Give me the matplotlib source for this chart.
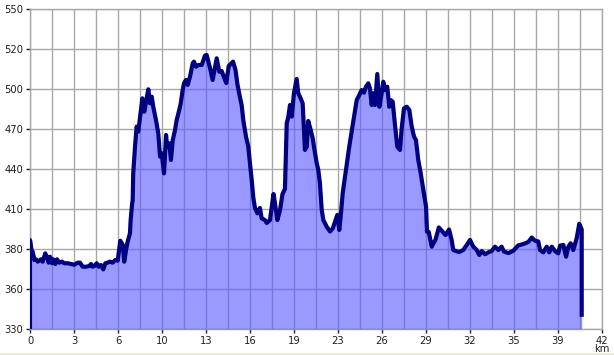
import matplotlib
matplotlib.use("Agg")
import matplotlib.pyplot as plt
import numpy as np
from matplotlib.lines import Line2D

# Elevation profile (km, m)
dist_km = [
    0.00, 0.00, 0.15, 0.20, 0.32, 0.44, 0.57, 0.68, 0.81, 0.93,
    1.12, 1.23, 1.37, 1.47, 1.62, 1.71, 1.86, 1.98, 2.15, 2.35,
    2.52, 2.77, 3.01, 3.25, 3.50, 3.67, 3.87, 4.11, 4.35, 4.48,
    4.60, 4.72, 4.90, 5.04, 5.21, 5.38, 5.53, 5.70, 5.87, 6.07,
    6.26, 6.44, 6.63, 6.81, 6.92, 7.05, 7.17, 7.34, 7.39, 7.49,
    7.54, 7.58, 7.71, 7.83, 7.95, 8.08, 8.25, 8.39, 8.52, 8.69,
    8.81, 8.94, 9.05, 9.25, 9.42, 9.55, 9.67, 9.84, 9.99, 10.08,
    10.23, 10.35, 10.48, 10.65, 10.77, 10.96, 11.07, 11.21, 11.31, 11.45,
    11.58, 11.75, 11.95, 12.04, 12.19, 12.36, 12.61, 12.85, 12.97, 13.22,
    13.41, 13.71, 13.90, 14.07, 14.41, 14.59, 14.91, 15.09, 15.22, 15.38,
    15.54, 15.66, 15.86, 16.03, 16.15, 16.28, 16.40, 16.52, 16.70, 16.88,
    17.01, 17.25, 17.38, 17.62, 17.88, 17.99, 18.16, 18.36, 18.54, 18.72,
    18.85, 18.97, 19.09, 19.22, 19.38, 19.58, 19.70, 19.83, 20.02, 20.19,
    20.32, 20.43, 20.61, 20.76, 20.85, 21.05, 21.17, 21.29, 21.42, 21.54,
    21.79, 22.03, 22.23, 22.40, 22.56, 22.71, 22.81, 22.96, 23.13, 23.25,
    23.44, 23.62, 23.79, 23.99, 24.18, 24.35, 24.52, 24.67, 24.84, 24.96,
    25.09, 25.21, 25.33, 25.50, 25.65, 25.82, 25.94, 26.07, 26.23, 26.38,
    26.48, 26.63, 26.80, 26.97, 27.17, 27.29, 27.46, 27.66, 27.85, 28.03,
    28.20, 28.34, 28.51, 28.69, 28.88, 29.08, 29.15, 29.28, 29.50, 29.63,
    29.77, 30.02, 30.25, 30.51, 30.77, 30.96, 31.08, 31.50, 31.81, 32.07,
    32.31, 32.55, 32.80, 32.99, 33.17, 33.41, 33.65, 33.90, 34.14, 34.39,
    34.63, 34.80, 35.12, 35.49, 35.85, 36.22, 36.59, 36.84, 37.08, 37.32,
    37.45, 37.69, 37.94, 38.13, 38.31, 38.55, 38.79, 38.92, 39.16, 39.36,
    39.53, 39.70, 39.89, 40.14, 40.33, 40.51, 40.51,
]
elev_m = [
    330.0, 391.2, 382.0, 383.1, 377.4, 377.9, 376.3, 377.0, 377.9, 376.3,
    382.0, 379.7, 375.6, 379.7, 375.2, 377.9, 374.7, 377.9, 375.6, 376.3,
    375.2, 375.2, 374.7, 374.2, 375.6, 375.6, 372.8, 372.8, 373.3, 374.7,
    372.8, 373.3, 375.2, 372.8, 374.0, 371.0, 375.2, 375.6, 376.3, 375.6,
    377.4, 377.0, 390.7, 387.8, 376.3, 384.3, 390.0, 395.8, 404.9, 415.3,
    418.7, 437.0, 455.3, 469.1, 465.7, 475.9, 488.6, 479.4, 486.3, 494.8,
    485.2, 489.7, 482.8, 473.7, 464.5, 448.5, 450.8, 437.0, 463.4, 455.3,
    457.7, 446.2, 459.9, 466.8, 473.7, 480.6, 485.2, 494.3, 498.9, 501.2,
    497.8, 503.5, 512.7, 513.8, 510.3, 511.5, 511.5, 518.0, 518.4, 509.4,
    501.2, 516.1, 506.9, 507.4, 499.1, 510.8, 513.8, 508.1, 498.9, 490.9,
    484.0, 473.7, 462.2, 455.3, 443.9, 432.4, 420.1, 413.2, 409.5, 413.2,
    406.1, 404.9, 402.9, 404.9, 422.8, 416.4, 404.9, 411.8, 422.8, 426.3,
    471.4, 476.0, 484.0, 476.0, 492.0, 501.9, 492.0, 489.5, 485.2, 453.1,
    455.3, 473.0, 466.8, 461.1, 455.3, 444.1, 439.3, 430.2, 411.8, 404.9,
    400.3, 397.0, 399.2, 403.8, 408.4, 398.1, 407.2, 423.3, 434.7, 442.8,
    455.3, 465.7, 475.9, 487.4, 490.9, 494.3, 492.5, 496.6, 498.9, 495.5,
    484.0, 492.0, 484.0, 505.3, 482.8, 492.0, 500.0, 494.3, 496.6, 482.8,
    487.4, 486.3, 470.3, 455.3, 453.1, 467.9, 481.7, 482.8, 480.6, 469.1,
    462.2, 459.9, 446.2, 437.0, 425.6, 414.1, 396.9, 396.7, 386.6, 389.1,
    391.2, 399.8, 397.4, 394.6, 398.4, 391.2, 384.3, 382.9, 384.3, 387.8,
    391.2, 386.6, 384.3, 380.9, 383.6, 381.4, 382.7, 383.6, 386.6, 384.3,
    386.6, 383.3, 382.2, 383.8, 387.5, 388.4, 389.8, 392.9, 390.7, 390.2,
    384.3, 382.7, 386.6, 382.7, 386.6, 383.6, 382.0, 387.3, 387.8, 379.7,
    386.6, 388.9, 384.3, 392.3, 402.3, 398.4, 339.8,
]

y_min, y_max = 330, 550
x_min, x_max = 0, 42
y_labels = ["330", "360", "380", "410", "440", "470", "500", "520", "550"]
x_labels = ["0", "3", "6", "10", "13", "16", "19", "23", "26", "29",
            "32", "35", "39", "42\nkm"]

fig = plt.figure(figsize=(6.14, 3.55), dpi=100)
ax = fig.add_axes([30 / 614, 26 / 355, 572 / 614, 320 / 355])

ax.fill_between(dist_km, elev_m, y_min, color=(85 / 255, 85 / 255, 1.0),
                alpha=0.6, linewidth=0, zorder=3)
ax.plot(dist_km, elev_m, color="#000080", linewidth=3.0,
        solid_joinstyle="round", zorder=4)

ax.set_xlim(x_min, x_max)
ax.set_ylim(y_min, y_max)

yt = np.linspace(y_min, y_max, len(y_labels))
ax.set_yticks(yt)
ax.set_yticklabels(y_labels)
xt = np.linspace(x_min, x_max, len(x_labels))
ax.set_xticks(xt)
ax.set_xticklabels(x_labels, linespacing=0.7)
ax.set_xticks(np.linspace(x_min, x_max, 2 * len(x_labels) - 1), minor=True)

ax.grid(True, which="both", color="#a8a8a8", linewidth=1.0, zorder=1)
ax.set_axisbelow(True)
ax.tick_params(axis="both", which="major", labelsize=7.2, colors="#202020",
               length=3, width=1, pad=2)
ax.tick_params(axis="x", which="minor", length=0)
for s in ax.spines.values():
    s.set_color("#a8a8a8")
    s.set_linewidth(1.0)

# window border strip at the bottom
fig.add_artist(Line2D([0, 1], [1.5 / 355, 1.5 / 355], color="#ece9d8",
                      linewidth=1.5, transform=fig.transFigure))

fig.savefig("out.png", dpi=100)
